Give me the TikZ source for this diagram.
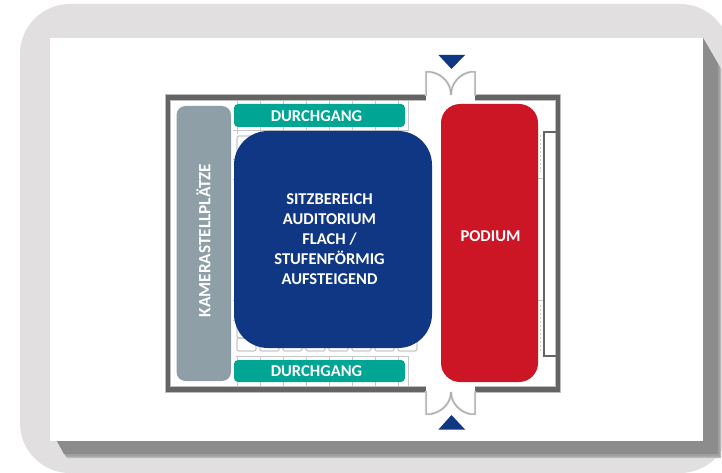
\documentclass[tikz,border=0pt]{standalone}
\usepackage{fontspec}
\setmainfont{Carlito}
\definecolor{panelgrey}{HTML}{E1DFE0}
\definecolor{shadowgrey}{HTML}{8C8C8C}
\definecolor{wallgrey}{HTML}{646464}
\definecolor{seatgrey}{HTML}{C8C8C8}
\definecolor{camgrey}{HTML}{8E9FA8}
\definecolor{teal}{HTML}{00A594}
\definecolor{navy}{HTML}{103784}
\definecolor{podred}{HTML}{CC1626}
\tikzset{
  x=1pt,y=-1pt,
  zone/.style={inner sep=0pt,outer sep=0pt,text=white,font=\bfseries\fontsize{16.5}{20}\selectfont,align=center},
  camzone/.style={zone,font=\bfseries\fontsize{17.2}{20}\selectfont},
  wallhalo/.style={draw=black!25,line width=6.4pt,line cap=butt,line join=miter},
  wall/.style={draw=wallgrey,line width=4.6pt,line cap=butt,line join=miter},
  innerwall/.style={draw=wallgrey,line width=1.5pt},
  doorhalo/.style={draw=black!14,line width=2.4pt},
  doorline/.style={draw=black!34,line width=1pt},
  seat/.style={draw=seatgrey,line width=1pt},
  seatbox/.style={draw=seatgrey,line width=1.2pt,rounded corners=2pt},
  marker/.style={fill=navy,draw=none}
}
\begin{document}
\begin{tikzpicture}
\useasboundingbox (0,0) rectangle (722,473);
\fill[white] (0,0) rectangle (722,473);
\fill[panelgrey,rounded corners=50pt] (20,4) rectangle (730,473);
% drop shadow with soft edge
\fill[shadowgrey!45!panelgrey] (703,38) -- (721,69) -- (721,458) -- (67,458) -- (57,441) -- cycle;
\fill[shadowgrey!75!panelgrey] (703,38) -- (720,67) -- (720,456.5) -- (66,456.5) -- (57,441) -- cycle;
\fill[shadowgrey] (703,38) -- (718,64) -- (718,454) -- (64,454) -- (57,441) -- cycle;
\fill[white] (50,38) rectangle (703,441);
% seating traces
\foreach \xx in {237,260,283,306,329,352,375,398}{
  \draw[seat] (\xx,100) -- (\xx,104);
  \draw[seat] (\xx,127) -- (\xx,134);
  \draw[seatbox] (\xx,338) rectangle ++(19,13);
  \draw[seat] (\xx,356) -- (\xx,360);
  \draw[seat] (\xx,382) -- (\xx,387);
}
\draw[seat] (233,131) -- (408,131);
\draw[seatbox] (237,136) rectangle (256,158);
\draw[seatbox] (237,318) rectangle (256,338);
\foreach \yy in {160,180,300,320}{
  \draw[seat] (233,\yy) -- (238,\yy);
}
\draw[seat] (236,356) -- (408,356);
\draw[seat] (408,356) -- (408,387);
\draw[seat] (408,100) -- (408,131);
% walls
\coordinate (dtl) at (426,97.5);
\coordinate (dtr) at (475,97.5);
\coordinate (dbl) at (426,389.5);
\coordinate (dbr) at (475,389.5);
\draw[wallhalo] (dtl) -- (168,97.5) -- (168,389.5) -- (dbl);
\draw[wallhalo] (dtr) -- (558,97.5) -- (558,389.5) -- (dbr);
% stage recess
\draw[seat,dash pattern=on 2pt off 2pt] (540,135) -- (540,172);
\draw[seat,dash pattern=on 2pt off 2pt] (540,305) -- (540,352);
\draw[seat] (538,179) -- (543,179);
\draw[seat] (538,300) -- (543,300);
\draw[innerwall] (556,132) -- (544,132) -- (544,356) -- (556,356);
\draw[wall] (dtl) -- (168,97.5) -- (168,389.5) -- (dbl);
\draw[wall] (dtr) -- (558,97.5) -- (558,389.5) -- (dbr);
% doors
\foreach \st in {doorhalo,doorline}{
  \draw[\st] (426,96) -- (426,72) -- (431,72) .. controls (442,74) and (451,83) .. (451,95);
  \draw[\st] (475,96) -- (475,72) -- (470,72) .. controls (460,74) and (451,83) .. (451,95);
  \draw[\st] (426,391) -- (426,414) -- (431,414) .. controls (442,412) and (451,403) .. (451,392);
  \draw[\st] (475,391) -- (475,414) -- (470,414) .. controls (460,412) and (451,403) .. (451,392);
}
% markers
\fill[marker] (438.5,55) -- (465,55) -- (451.5,69) -- cycle;
\fill[marker] (438.5,429.5) -- (465,429.5) -- (451.5,415) -- cycle;
% zones
\fill[camgrey,rounded corners=9pt] (176.5,106) rectangle (231,381);
\node[camzone,rotate=90] (cam) at (203.5,240.5) {KAMERASTELLPLÄTZE};
\fill[teal,rounded corners=4pt] (234,104) rectangle (405,127);
\node[zone] (d1) at (316.5,116.5) {DURCHGANG};
\fill[teal,rounded corners=4pt] (234,360) rectangle (405,382);
\node[zone] (d2) at (316.5,371.5) {DURCHGANG};
\fill[navy,rounded corners=34pt] (234,131) rectangle (432,348);
\node[zone] (seats) at (329.5,239) {SITZBEREICH\\AUDITORIUM\\FLACH /\\STUFENFÖRMIG\\AUFSTEIGEND};
\fill[podred,rounded corners=19pt] (441,104) rectangle (538,382);
\node[zone] (pod) at (490.5,236) {PODIUM};
\end{tikzpicture}
\end{document}
